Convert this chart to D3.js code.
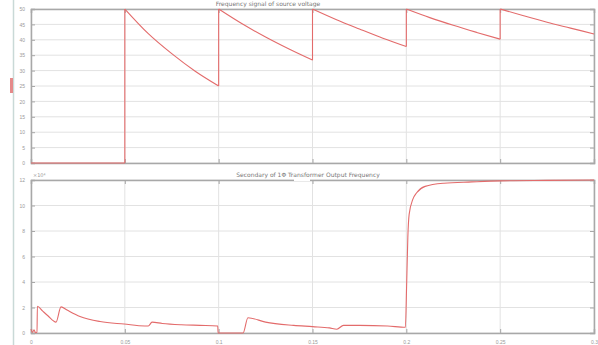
<!DOCTYPE html>
<html>
<head>
<meta charset="utf-8">
<script src="https://cdn.jsdelivr.net/npm/d3@7"></script>
<style>
  body { margin: 0; background: #fff; }
  svg { display: block; font-family: "DejaVu Sans", sans-serif; }
</style>
</head>
<body>
<div id="chart"></div>
<script>
// shared time axis (s)
const xTicks = [0, 0.05, 0.1, 0.15, 0.2, 0.25, 0.3];

// top panel: frequency signal of source voltage
const srcTitle = 'Frequency signal of source voltage';
const srcTicks = [0, 5, 10, 15, 20, 25, 30, 35, 40, 45, 50];
const srcT = [0, 0.05, 0.05, 0.0625, 0.075, 0.0875, 0.1,
  0.1, 0.1125, 0.125, 0.1375, 0.15,
  0.15, 0.1625, 0.175, 0.1875, 0.2,
  0.2, 0.2125, 0.225, 0.2375, 0.25,
  0.25, 0.2625, 0.275, 0.2875, 0.3];
const srcV = [0, 0, 50, 42, 35.5, 29.8, 25,
  50, 45.2, 40.9, 37, 33.4,
  50, 46.6, 43.5, 40.5, 37.8,
  50, 47.2, 44.7, 42.4, 40.2,
  50, 47.8, 45.7, 43.8, 41.9];

// bottom panel: transformer output frequency (x10^4)
const outTitle = 'Secondary of 1\u03A6 Transformer Output Frequency';
const outTicks = [0, 2, 4, 6, 8, 10, 12];
const outT = [0, 0.0008, 0.0016, 0.0024, 0.0032, 0.0034, 0.006, 0.009, 0.0133, 0.016,
  0.0192, 0.0261, 0.0368, 0.0496, 0.0607, 0.0625, 0.0645, 0.07, 0.08, 0.09,
  0.0995, 0.0997, 0.113, 0.1156, 0.125, 0.14, 0.15, 0.159, 0.163, 0.1665,
  0.175, 0.19, 0.1995, 0.2002, 0.2008, 0.2015, 0.2035, 0.2055, 0.21, 0.22,
  0.235, 0.25, 0.275, 0.3];
const outV = [0.3, 0.05, 0.25, 0.02, 0.05, 2.1, 1.75, 1.35, 0.85, 2.05,
  1.8, 1.3, 0.9, 0.7, 0.55, 0.55, 0.85, 0.75, 0.65, 0.6,
  0.55, 0.0, 0.0, 1.2, 0.85, 0.6, 0.5, 0.4, 0.3, 0.6,
  0.6, 0.55, 0.45, 4, 7.5, 9.3, 10.5, 11, 11.5, 11.75,
  11.85, 11.93, 11.97, 12];

const W = 598, H = 345;
const left = 31, right = 594;
const lineColor = '#e36b6b';
const gridColor = '#e2e2e2';
const boxColor = '#a8a8a8';
const textColor = '#9a9a9a';

const svg = d3.select('#chart').append('svg')
  .attr('width', W).attr('height', H);

// scope window edge + marker on the far left
svg.append('line')
  .attr('x1', 13.5).attr('x2', 13.5).attr('y1', 0).attr('y2', H)
  .attr('stroke', '#c9d9d7').attr('stroke-width', 1.5);
svg.append('rect')
  .attr('x', 10).attr('y', 78).attr('width', 3).attr('height', 15)
  .attr('fill', '#e58a8a');

const x = d3.scaleLinear().domain([0, 0.3]).range([left, right]);

// split a series where t repeats, so jumps stay vertical
function pieces(ts, vs) {
  const out = [];
  let cur = [[ts[0], vs[0]]];
  for (let i = 1; i < ts.length; i++) {
    if (ts[i] === ts[i - 1]) {
      out.push(cur);
      out.push([[ts[i - 1], vs[i - 1]], [ts[i], vs[i]]]);
      cur = [[ts[i], vs[i]]];
    } else {
      cur.push([ts[i], vs[i]]);
    }
  }
  out.push(cur);
  return out.filter(p => p.length > 1);
}

function panel(top, bottom, yMax, yTicks, title, titleX, ts, vs, opts) {
  const y = d3.scaleLinear().domain([0, yMax]).range([bottom, top]);
  const g = svg.append('g');

  // grid
  g.selectAll('.gy').data(yTicks).enter().append('line')
    .attr('x1', left).attr('x2', right)
    .attr('y1', d => y(d)).attr('y2', d => y(d))
    .attr('stroke', gridColor).attr('stroke-width', 1);
  g.selectAll('.gx').data(xTicks).enter().append('line')
    .attr('x1', d => x(d)).attr('x2', d => x(d))
    .attr('y1', top).attr('y2', bottom)
    .attr('stroke', gridColor).attr('stroke-width', 1);

  // axes (ticks on all sides, matlab style)
  const fmt = d => d;
  g.append('g').attr('transform', `translate(${left},0)`)
    .call(d3.axisLeft(y).tickValues(yTicks).tickSize(-4).tickPadding(6).tickFormat(fmt));
  g.append('g').attr('transform', `translate(${right},0)`)
    .call(d3.axisRight(y).tickValues(yTicks).tickSize(-4).tickFormat(''));
  g.append('g').attr('transform', `translate(0,${bottom})`)
    .call(d3.axisBottom(x).tickValues(xTicks).tickSize(-4).tickPadding(7)
      .tickFormat(opts.xLabels ? d3.format('') : ''));
  g.append('g').attr('transform', `translate(0,${top})`)
    .call(d3.axisTop(x).tickValues(xTicks).tickSize(-4).tickFormat(''));

  g.selectAll('.domain').attr('stroke', boxColor).attr('stroke-width', 1.5);
  g.selectAll('.tick line').attr('stroke', boxColor);
  g.selectAll('.tick text').attr('fill', textColor).attr('font-size', 5);

  if (opts.gap) {
    g.append('rect').attr('x', opts.gap[0]).attr('y', top - 2)
      .attr('width', opts.gap[1] - opts.gap[0]).attr('height', 3).attr('fill', '#fff');
  }

  // series
  const line = d3.line().x(d => x(d[0])).y(d => y(d[1])).curve(d3.curveMonotoneX);
  g.selectAll('.s').data(pieces(ts, vs)).enter().append('path')
    .attr('d', line).attr('fill', 'none')
    .attr('stroke', lineColor).attr('stroke-width', 1.1);

  g.append('text').attr('x', titleX).attr('y', top - 3)
    .attr('text-anchor', 'middle').attr('font-size', 6).attr('fill', '#777')
    .text(title);

  if (opts.exp) {
    g.append('text').attr('x', left + 2).attr('y', top - 3)
      .attr('font-size', 5).attr('fill', textColor)
      .text('\u00D710\u2074');
  }
}

panel(9, 163, 50, srcTicks, srcTitle, 268, srcT, srcV, { xLabels: false });
panel(180, 333, 12, outTicks, outTitle, 308, outT, outV, { xLabels: true, exp: true, gap: [294, 310] });
</script>
</body>
</html>
